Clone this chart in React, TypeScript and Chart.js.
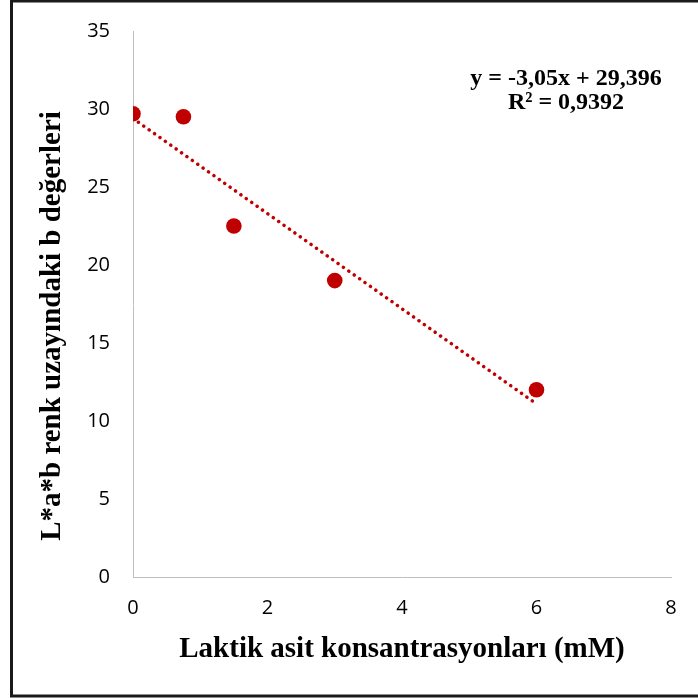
import React, { useEffect, useRef } from "react";
import { Chart, registerables } from "chart.js";

Chart.register(...registerables);

const concentrations = [0, 0.75, 1.5, 3, 6];
const bValues = [29.7, 29.5, 22.5, 19.0, 12.0];
const trendX = [0, 6];
const trendY = [29.396, 11.096];
const xTicks = [0, 2, 4, 6, 8];
const yTicks = [0, 5, 10, 15, 20, 25, 30, 35];
const xTitle = "Laktik asit konsantrasyonları (mM)";
const yTitle = "L*a*b renk uzayındaki b değerleri";
const equationLines = ["y = -3,05x + 29,396", "R² = 0,9392"];

const RED = "#C00000";

const decorPlugin = {
  id: "decor",
  beforeDraw(chart: any) {
    const ctx = chart.ctx;
    ctx.save();
    ctx.fillStyle = "#ffffff";
    ctx.fillRect(0, 0, chart.width, chart.height);
    ctx.restore();
  },
  afterDraw(chart: any) {
    const ctx = chart.ctx;
    const area = chart.chartArea;
    ctx.save();
    // x title
    ctx.fillStyle = "#000";
    ctx.font = "bold 29px 'Liberation Serif', 'Times New Roman', serif";
    ctx.textAlign = "center";
    ctx.textBaseline = "alphabetic";
    ctx.fillText(xTitle, (area.left + area.right) / 2, 657);
    // y title
    ctx.save();
    ctx.translate(60, 326);
    ctx.rotate(-Math.PI / 2);
    ctx.fillText(yTitle, 0, 0);
    ctx.restore();
    // equation
    ctx.font = "bold 24px 'Liberation Serif', 'Times New Roman', serif";
    ctx.fillText(equationLines[0], 566, 85);
    ctx.fillText(equationLines[1], 566, 109);
    // outer border
    ctx.strokeStyle = "#1a1a1a";
    ctx.lineWidth = 3;
    ctx.strokeRect(11.5, 1, 700, 695);
    ctx.restore();
  },
};

export default function App() {
  const ref = useRef<HTMLCanvasElement | null>(null);
  useEffect(() => {
    if (!ref.current) return;
    const tickFont = { family: "'Open Sans', sans-serif", size: 20 };
    const chart = new Chart(ref.current, {
      type: "scatter",
      data: {
        datasets: [
          {
            label: "trend",
            data: trendX.map((x, i) => ({ x, y: trendY[i] })),
            showLine: true,
            borderColor: RED,
            borderWidth: 3.5,
            borderDash: [0.01, 6.6],
            borderCapStyle: "round",
            pointRadius: 0,
            fill: false,
          },
          {
            label: "b",
            data: concentrations.map((x, i) => ({ x, y: bValues[i] })),
            backgroundColor: RED,
            borderColor: RED,
            borderWidth: 0,
            pointRadius: 7.8,
          },
        ],
      },
      options: {
        responsive: false,
        animation: false,
        events: [],
        layout: { padding: { left: 0, top: 31, right: 27, bottom: 0 } },
        plugins: {
          legend: { display: false },
          tooltip: { enabled: false },
          title: { display: false },
        },
        scales: {
          x: {
            type: "linear",
            min: 0,
            max: 8,
            afterBuildTicks: (s: any) => {
              s.ticks = xTicks.map((v) => ({ value: v }));
            },
            afterFit: (s: any) => {
              s.height = 122;
              s.paddingLeft = 0;
              s.paddingRight = 0;
            },
            grid: { display: false, drawTicks: false },
            border: { display: true, color: "#BFBFBF", width: 1 },
            ticks: { color: "#000", font: tickFont, padding: 19, maxRotation: 0 },
          },
          y: {
            type: "linear",
            min: 0,
            max: 35,
            afterBuildTicks: (s: any) => {
              s.ticks = yTicks.map((v) => ({ value: v }));
            },
            afterFit: (s: any) => {
              s.width = 133;
              s.paddingTop = 0;
              s.paddingBottom = 0;
            },
            grid: { display: false, drawTicks: false },
            border: { display: true, color: "#BFBFBF", width: 1 },
            ticks: { color: "#000", font: tickFont, padding: 23 },
          },
        },
      },
      plugins: [decorPlugin],
    } as any);
    return () => chart.destroy();
  }, []);
  return (
    <div style={{ position: "absolute", left: 0, top: 0, width: 698, height: 699 }}>
      <canvas ref={ref} width={698} height={699} style={{ display: "block" }} />
    </div>
  );
}
